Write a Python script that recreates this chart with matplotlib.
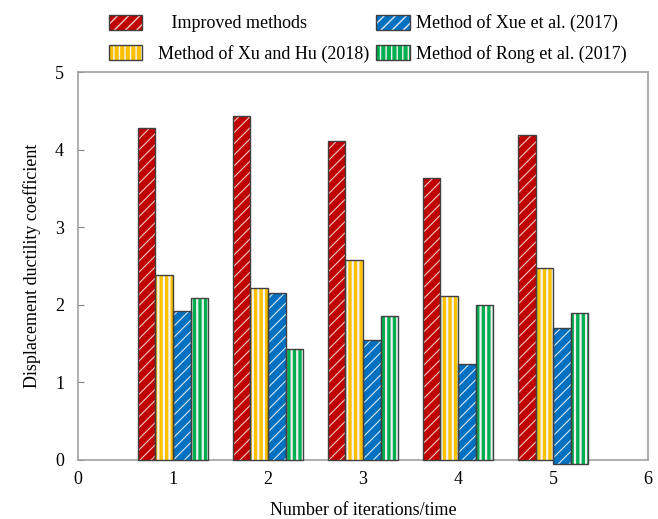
import numpy as np
import matplotlib.pyplot as plt
from matplotlib.patches import Patch
from matplotlib.legend_handler import HandlerTuple

plt.rcParams['font.family'] = ['Liberation Serif', 'DejaVu Serif']
plt.rcParams['font.size'] = 13

# iterations and results
iterations = [1, 2, 3, 4, 5]
improved = [4.28, 4.43, 4.11, 3.63, 4.19]
xu_hu = [2.39, 2.22, 2.58, 2.11, 2.48]
xue = [1.92, 2.15, 1.55, 1.24, 1.70]
rong = [2.09, 1.43, 1.85, 2.00, 1.89]
labels = ['     Improved methods', '  Method of Xu and Hu (2018)',
          'Method of Xue et al. (2017)', 'Method of Rong et al. (2017)']

series = [improved, xu_hu, xue, rong]
colors = ['#c00000', '#ffc000', '#0070c0', '#00b050']
hatches = ['///', '|||', '///', '|||']
hatch_cols = ['#f0c8c8', '#f4f4f4', '#d8e8f4', '#f0f0f0']
hatch_lw = [0.8, 1.6, 0.8, 1.6]
edge = '#404040'

fig = plt.figure(figsize=(6.58, 5.19), dpi=100)
ax = fig.add_axes([0.1185, 0.1137, 0.8665, 0.7473])

w = 0.185
x = np.array(iterations)
handles = []
for i, (vals, c, h) in enumerate(zip(series, colors, hatches)):
    pos = x + (i - 1.5) * w
    # the two right bars of the last group start a bit below zero, as in the original
    bottom = np.zeros(len(vals))
    if i >= 2:
        bottom[-1] = -0.05
    heights = np.array(vals) - bottom
    with plt.rc_context({'hatch.linewidth': hatch_lw[i]}):
        ax.bar(pos, heights, w, bottom=bottom, color=c, hatch=h, edgecolor=hatch_cols[i],
               linewidth=0, zorder=3, clip_on=False)
        hp = Patch(facecolor=c, hatch=h, edgecolor=hatch_cols[i], linewidth=0)
    ax.bar(pos, heights, w, bottom=bottom, fill=False, edgecolor=edge, linewidth=1.0,
           zorder=3.1, clip_on=False)
    handles.append((hp, Patch(fill=False, edgecolor=edge, linewidth=1.0)))

ax.set_xlim(0, 6)
ax.set_ylim(0, 5)
ax.set_xticks(range(0, 7))
ax.set_yticks(range(0, 6))
ax.tick_params(axis='y', direction='in', length=4, color='#808080', pad=10)
ax.tick_params(axis='x', direction='in', length=0, pad=8)
for s in ax.spines.values():
    s.set_color('#a0a0a0')
    s.set_linewidth(1.2)
ax.set_xlabel('Number of iterations/time', labelpad=10)
ax.set_ylabel('Displacement ductility coefficient', labelpad=10)

fig.legend(handles, labels,
           handler_map={tuple: HandlerTuple(ndivide=1)},
           loc='upper left', bbox_to_anchor=(0.1657, 0.972), ncol=2, frameon=False,
           borderpad=0, borderaxespad=0, handlelength=1.85, handleheight=0.9,
           columnspacing=0.4, labelspacing=0.7, handletextpad=0.35)

fig.savefig('out.png', dpi=100)
